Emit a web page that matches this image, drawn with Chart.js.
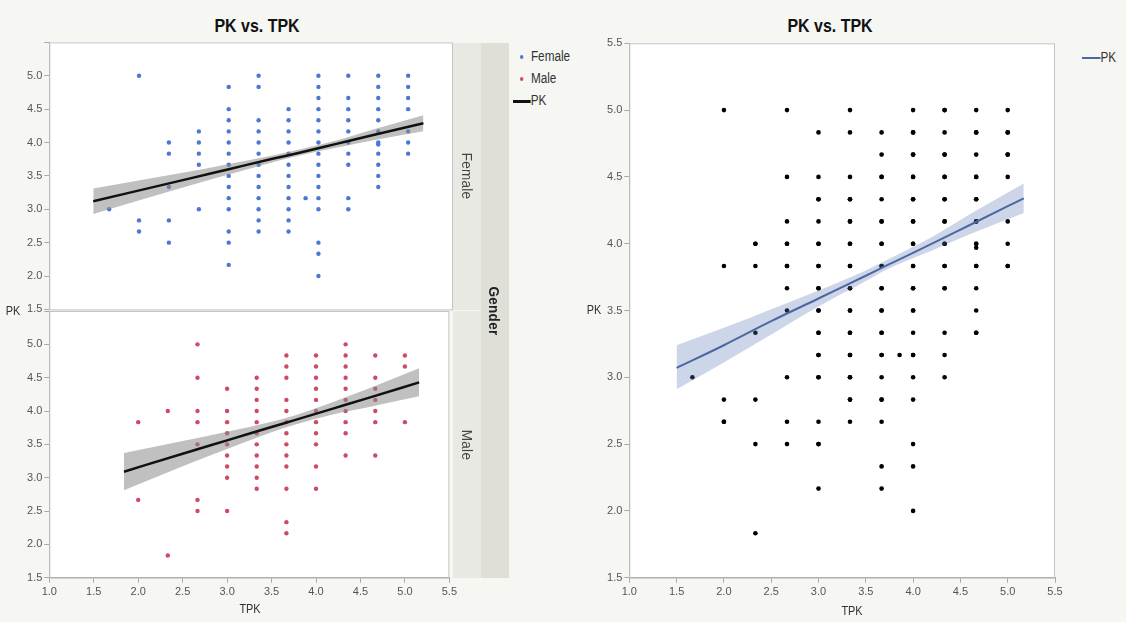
<!DOCTYPE html>
<html>
<head>
<meta charset="utf-8">
<script src="https://cdn.jsdelivr.net/npm/chart.js@4/dist/chart.umd.min.js"></script>
<style>
body{margin:0;width:1126px;height:622px;background:#f6f6f3;position:relative;overflow:hidden;
  font-family:'Liberation Sans',Arial,sans-serif;color:#333;}
canvas{position:absolute;}
.txt{position:absolute;white-space:nowrap;transform:translate(-50%,-50%) scaleX(0.84);}
.title{font-weight:bold;font-size:19px;color:#111;}
.strip{position:absolute;}
.vtxt{position:absolute;white-space:nowrap;writing-mode:vertical-rl;transform:translate(-50%,-50%) scaleY(0.9);letter-spacing:0.3px;}
.leg{position:absolute;font-size:14px;color:#333;white-space:nowrap;transform:scaleX(0.84);transform-origin:left center;}
.dot{display:inline-block;width:4px;height:4px;border-radius:50%;margin-right:9px;vertical-align:middle;}
.ln{display:inline-block;height:3px;vertical-align:middle;}
</style>
</head>
<body>

<div class="txt title" style="left:257px;top:26px">PK vs. TPK</div>
<div class="txt title" style="left:830px;top:26px">PK vs. TPK</div>

<canvas id="leftTop" width="460" height="318" style="left:0;top:0"></canvas>
<canvas id="leftBottom" width="460" height="322" style="left:0;top:300px"></canvas>
<canvas id="right" width="490" height="622" style="left:580px;top:0"></canvas>

<!-- facet strips -->
<div class="strip" style="left:453px;top:43px;width:28px;height:267px;background:#e9e9e3"></div>
<div class="strip" style="left:453px;top:311px;width:28px;height:267px;background:#e9e9e3"></div>
<div class="strip" style="left:481px;top:43px;width:28px;height:535px;background:#dfdfd8"></div>
<div class="vtxt" style="left:467px;top:176px;font-size:15px;color:#444">Female</div>
<div class="vtxt" style="left:467px;top:445px;font-size:15px;color:#444">Male</div>
<div class="vtxt" style="left:494px;top:311px;font-size:15px;font-weight:bold;color:#222">Gender</div>

<div class="txt" style="left:13px;top:310px;font-size:13px">PK</div>
<div class="txt" style="left:250px;top:608px;font-size:13px">TPK</div>
<div class="txt" style="left:594px;top:309px;font-size:13px">PK</div>
<div class="txt" style="left:852px;top:610px;font-size:13px">TPK</div>

<div class="leg" style="left:520px;top:48px"><span class="dot" style="background:#4a78d2"></span>Female</div>
<div class="leg" style="left:520px;top:70px"><span class="dot" style="background:#cf4a63"></span>Male</div>
<div class="leg" style="left:513px;top:92px"><span class="ln" style="width:21px;background:#111"></span>PK</div>
<div class="leg" style="left:1082px;top:49px"><span class="ln" style="width:22px;height:2px;background:#4d67a3"></span>PK</div>

<script>
// Puntos (TPK, PK)
const femalePoints = [
  [1.667,3.0],
  [2.0,5.0],[2.0,2.833],[2.0,2.667],
  [2.333,4.0],[2.333,3.833],[2.333,3.333],[2.333,2.833],[2.333,2.5],
  [2.667,4.167],[2.667,4.0],[2.667,3.833],[2.667,3.667],[2.667,3.0],
  [3.0,4.833],[3.0,4.5],[3.0,4.333],[3.0,4.167],[3.0,4.0],[3.0,3.833],[3.0,3.667],[3.0,3.5],
  [3.0,3.333],[3.0,3.167],[3.0,3.0],[3.0,2.667],[3.0,2.5],[3.0,2.167],
  [3.333,5.0],[3.333,4.833],[3.333,4.333],[3.333,4.167],[3.333,4.0],[3.333,3.833],[3.333,3.667],
  [3.333,3.5],[3.333,3.333],[3.333,3.167],[3.333,3.0],[3.333,2.833],[3.333,2.667],
  [3.667,4.5],[3.667,4.333],[3.667,4.167],[3.667,4.0],[3.667,3.833],[3.667,3.667],[3.667,3.5],
  [3.667,3.333],[3.667,3.167],[3.667,3.0],[3.667,2.833],[3.667,2.667],
  [3.857,3.167],
  [4.0,5.0],[4.0,4.833],[4.0,4.667],[4.0,4.5],[4.0,4.333],[4.0,4.167],[4.0,4.0],[4.0,3.833],
  [4.0,3.667],[4.0,3.5],[4.0,3.333],[4.0,3.167],[4.0,3.0],[4.0,2.5],[4.0,2.333],[4.0,2.0],
  [4.333,5.0],[4.333,4.667],[4.333,4.5],[4.333,4.333],[4.333,4.167],[4.333,4.0],[4.333,3.833],
  [4.333,3.667],[4.333,3.167],[4.333,3.0],
  [4.667,5.0],[4.667,4.833],[4.667,4.667],[4.667,4.5],[4.667,4.333],[4.667,4.167],[4.667,4.0],
  [4.667,3.97],[4.667,3.833],[4.667,3.667],[4.667,3.5],[4.667,3.333],
  [5.0,5.0],[5.0,4.833],[5.0,4.667],[5.0,4.5],[5.0,4.167],[5.0,4.0],[5.0,3.833]
];

const malePoints = [
  [2.0,3.833],[2.0,2.667],
  [2.333,4.0],[2.333,1.833],
  [2.667,5.0],[2.667,4.5],[2.667,4.0],[2.667,3.833],[2.667,3.5],[2.667,2.667],[2.667,2.5],
  [3.0,4.333],[3.0,4.0],[3.0,3.833],[3.0,3.667],[3.0,3.5],[3.0,3.333],[3.0,3.167],[3.0,3.0],[3.0,2.5],
  [3.333,4.5],[3.333,4.333],[3.333,4.167],[3.333,4.0],[3.333,3.833],[3.333,3.667],[3.333,3.5],
  [3.333,3.333],[3.333,3.167],[3.333,3.0],[3.333,2.833],
  [3.667,4.833],[3.667,4.667],[3.667,4.5],[3.667,4.167],[3.667,4.0],[3.667,3.833],[3.667,3.667],
  [3.667,3.5],[3.667,3.333],[3.667,3.167],[3.667,2.833],[3.667,2.333],[3.667,2.167],
  [4.0,4.833],[4.0,4.667],[4.0,4.5],[4.0,4.333],[4.0,4.167],[4.0,4.0],[4.0,3.833],[4.0,3.667],
  [4.0,3.5],[4.0,3.167],[4.0,2.833],
  [4.333,5.0],[4.333,4.833],[4.333,4.667],[4.333,4.5],[4.333,4.333],[4.333,4.167],[4.333,4.0],
  [4.333,3.833],[4.333,3.667],[4.333,3.333],
  [4.667,4.833],[4.667,4.5],[4.667,4.333],[4.667,4.167],[4.667,4.0],[4.667,3.833],[4.667,3.333],
  [5.0,4.833],[5.0,4.667],[5.0,3.833]
];

// Rectas de ajuste y bandas de confianza
const femaleFitX  = [1.49, 2.5, 3.0, 3.5, 3.8, 4.2, 4.6, 5.17];
const femaleFitY  = [3.12, 3.44, 3.60, 3.76, 3.85, 3.98, 4.11, 4.29];
const femaleUpper = [3.31, 3.55, 3.68, 3.81, 3.90, 4.03, 4.19, 4.41];
const femaleLower = [2.93, 3.33, 3.52, 3.71, 3.81, 3.92, 4.03, 4.17];

const maleFitX  = [1.84, 2.5, 3.0, 3.5, 3.75, 4.2, 4.6, 5.16];
const maleFitY  = [3.09, 3.36, 3.56, 3.76, 3.86, 4.04, 4.20, 4.43];
const maleUpper = [3.37, 3.55, 3.69, 3.84, 3.93, 4.14, 4.34, 4.64];
const maleLower = [2.81, 3.17, 3.43, 3.68, 3.79, 3.95, 4.06, 4.22];

const allFitX  = [1.5, 2.0, 2.5, 3.0, 3.5, 3.7, 4.2, 4.6, 5.17];
const allFitY  = [3.07, 3.24, 3.42, 3.59, 3.76, 3.83, 4.00, 4.14, 4.34];
const allUpper = [3.24, 3.37, 3.51, 3.65, 3.80, 3.87, 4.05, 4.22, 4.45];
const allLower = [2.91, 3.11, 3.32, 3.53, 3.72, 3.80, 3.95, 4.07, 4.23];

const xTicks = [1.0, 1.5, 2.0, 2.5, 3.0, 3.5, 4.0, 4.5, 5.0, 5.5];
const yTicks = [1.5, 2.0, 2.5, 3.0, 3.5, 4.0, 4.5, 5.0, 5.5];

const FONT = "'Liberation Sans',Arial,sans-serif";
const AXIS = '#a9a9a9';

function toXY(xs, ys){
  return xs.map((x, i) => ({x: x, y: ys[i]}));
}
function pairs(list){
  return list.map(p => ({x: p[0], y: p[1]}));
}

// fondo blanco y marco gris del area de datos
const frame = {
  id: 'frame',
  beforeDraw(chart){
    const a = chart.chartArea, c = chart.ctx;
    c.save();
    c.fillStyle = '#ffffff';
    c.fillRect(a.left, a.top, a.width, a.height);
    c.restore();
  },
  afterDraw(chart){
    const a = chart.chartArea, c = chart.ctx;
    c.save();
    c.strokeStyle = '#c4c4c4';
    c.lineWidth = 1;
    c.strokeRect(a.left + 0.5, a.top + 0.5, a.width - 1, a.height);
    c.restore();
  }
};

function fitSets(xs, ys, up, lo, lineColor, bandColor, lw){
  return [
    {data: toXY(xs, ys), borderColor: lineColor, borderWidth: lw, pointRadius: 0, fill: false,
     cubicInterpolationMode: 'monotone'},
    {data: toXY(xs, up), borderWidth: 0, borderColor: 'transparent', pointRadius: 0, fill: false,
     cubicInterpolationMode: 'monotone'},
    {data: toXY(xs, lo), borderWidth: 0, borderColor: 'transparent', pointRadius: 0, fill: '-1',
     backgroundColor: bandColor, cubicInterpolationMode: 'monotone'}
  ];
}

function pointSet(list, color, r){
  return {data: pairs(list), showLine: false, pointRadius: r, pointBorderWidth: 0,
          pointBackgroundColor: color, pointHoverRadius: r};
}

function makeScales(showX, hideTop){
  return {
    x: {
      type: 'linear', min: 1.0, max: 5.5, display: showX,
      afterBuildTicks: s => { s.ticks = xTicks.map(v => ({value: v})); },
      afterFit: s => { s.height = showX ? 38 : 0; },
      grid: {drawOnChartArea: false, drawTicks: true, tickLength: 5, color: AXIS},
      border: {color: AXIS},
      ticks: {font: {family: FONT, size: 11}, color: '#555', padding: 3,
              callback: v => v.toFixed(1), maxRotation: 0}
    },
    y: {
      type: 'linear', min: 1.5, max: 5.5,
      afterBuildTicks: s => { s.ticks = yTicks.map(v => ({value: v})); },
      afterFit: s => { s.width = 49.3; },
      grid: {drawOnChartArea: false, drawTicks: true, tickLength: 5, color: AXIS},
      border: {color: AXIS},
      ticks: {font: {family: FONT, size: 11}, color: '#555', padding: 2,
              callback: v => (hideTop && v === 5.5) ? '' : v.toFixed(1)}
    }
  };
}

function makeChart(id, datasets, showX, hideTop, padding){
  new Chart(document.getElementById(id), {
    type: 'line',
    data: {datasets: datasets},
    options: {
      responsive: false, animation: false, devicePixelRatio: 1,
      layout: {padding: padding},
      scales: makeScales(showX, hideTop),
      plugins: {legend: {display: false}, tooltip: {enabled: false}}
    },
    plugins: [frame]
  });
}

makeChart('leftTop',
  fitSets(femaleFitX, femaleFitY, femaleUpper, femaleLower, '#111', 'rgba(140,140,140,0.55)', 2.5)
    .concat([pointSet(femalePoints, '#4a78d2', 2.2)]),
  false, true, {left: 0, top: 42.4, right: 7, bottom: 0});

makeChart('leftBottom',
  fitSets(maleFitX, maleFitY, maleUpper, maleLower, '#111', 'rgba(140,140,140,0.55)', 2.5)
    .concat([pointSet(malePoints, '#cf4a63', 2.2)]),
  true, true, {left: 0, top: 11, right: 7, bottom: 6.3});

makeChart('right',
  fitSets(allFitX, allFitY, allUpper, allLower, '#4d67a3', 'rgba(90,115,180,0.3)', 2)
    .concat([pointSet(femalePoints.concat(malePoints), '#000', 2.3)]),
  true, false, {left: 0, top: 43.3, right: 15, bottom: 6.3});
</script>
</body>
</html>
